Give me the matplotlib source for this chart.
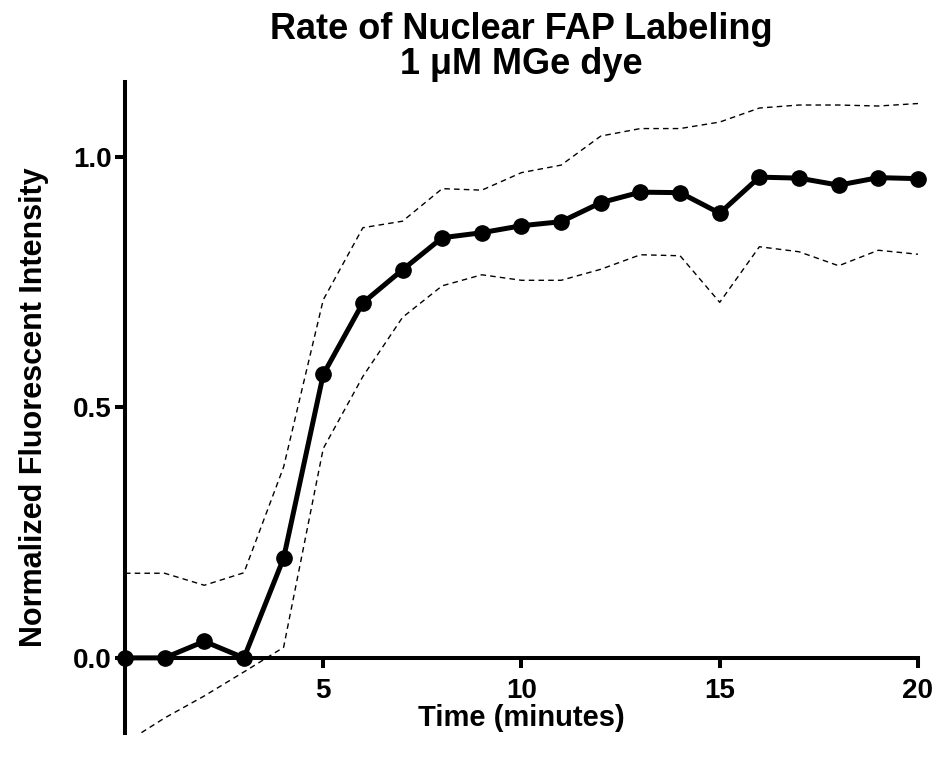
import numpy as np
import matplotlib
matplotlib.use("Agg")
import matplotlib.pyplot as plt

# Datos
time_min = [0, 1, 2, 3, 4, 5, 6, 7, 8, 9, 10, 11, 12, 13, 14, 15, 16, 17, 18, 19, 20]
mean_int = [0.0, 0.0, 0.033, 0.0, 0.199, 0.566, 0.709, 0.775, 0.839, 0.849, 0.863,
            0.871, 0.909, 0.930, 0.929, 0.888, 0.960, 0.958, 0.944, 0.959, 0.957]
upper_ci = [0.169, 0.169, 0.145, 0.170, 0.381, 0.715, 0.859, 0.872, 0.937, 0.934, 0.969,
            0.984, 1.042, 1.057, 1.057, 1.070, 1.098, 1.104, 1.104, 1.102, 1.107]
lower_ci = [-0.17, -0.12, -0.076, -0.028, 0.021, 0.418, 0.562, 0.680, 0.743, 0.765, 0.754,
            0.754, 0.776, 0.805, 0.803, 0.710, 0.821, 0.811, 0.783, 0.814, 0.806]

x_ticks = [5, 10, 15, 20]
y_ticks = [0.0, 0.5, 1.0]

plt.rcParams["font.family"] = ["Liberation Sans", "DejaVu Sans"]
plt.rcParams["font.weight"] = "bold"

fig = plt.figure(figsize=(9.37, 7.57), dpi=100)
ax = fig.add_axes([0.1334, 0.0317, 0.8463, 0.86])

ax.plot(time_min, upper_ci, color="black", lw=1.0, ls=(0, (4, 3)))
ax.plot(time_min, lower_ci, color="black", lw=1.0, ls=(0, (4, 3)))
ax.plot(time_min, mean_int, color="black", lw=3.6, marker="o", ms=11,
        clip_on=False, zorder=5)

ax.set_xlim(0, 20)
ax.set_ylim(-0.15, 1.15)

for s in ["top", "right"]:
    ax.spines[s].set_visible(False)
ax.spines["bottom"].set_position(("data", 0))
for s in ["left", "bottom"]:
    ax.spines[s].set_linewidth(2.9)

ax.set_xticks(x_ticks)
ax.set_xticklabels([str(t) for t in x_ticks])
ax.set_yticks(y_ticks)
ax.set_yticklabels(["%.1f" % v for v in y_ticks])
ax.tick_params(axis="both", width=2.9, length=7.5, labelsize=20, pad=2)
ax.tick_params(axis="x", pad=7)

ax.set_xlabel("Time (minutes)", fontsize=21, fontweight="bold", labelpad=0)
ax.set_ylabel("Normalized Fluorescent Intensity", fontsize=22, fontweight="bold", labelpad=17)
ax.set_title("Rate of Nuclear FAP Labeling\n1 \u03bcM MGe dye", fontsize=26,
             fontweight="bold", pad=4, linespacing=1.0)

fig.savefig("out.png", dpi=100)
